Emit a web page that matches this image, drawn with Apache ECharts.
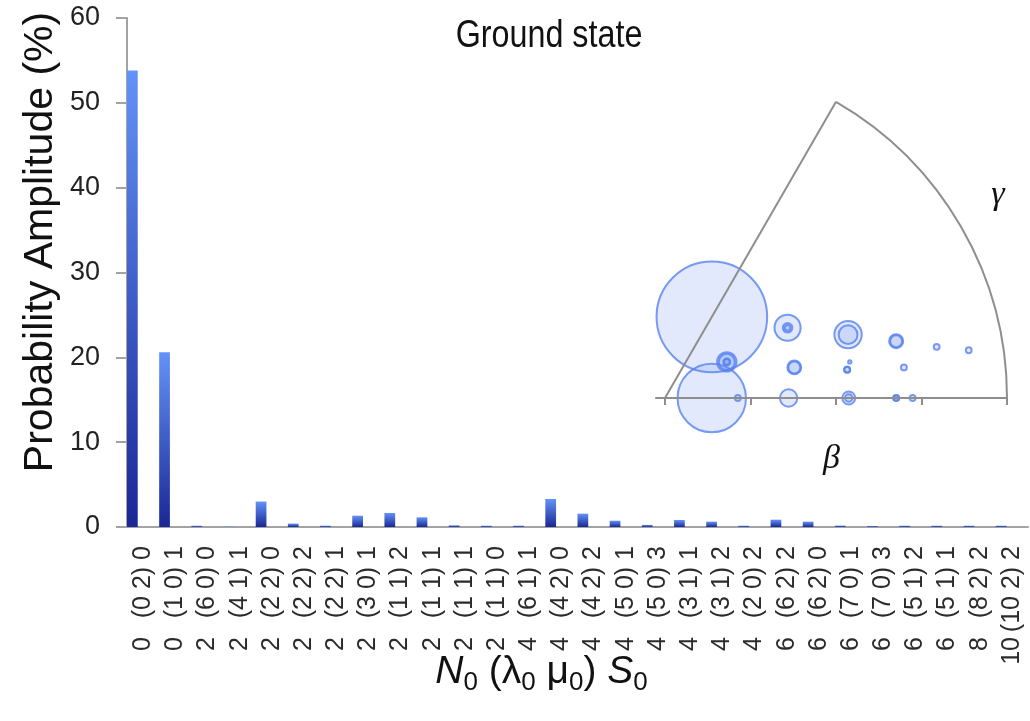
<!DOCTYPE html>
<html>
<head>
<meta charset="utf-8">
<script src="https://cdn.jsdelivr.net/npm/echarts@6/dist/echarts.min.js"></script>
<style>
  html, body { margin: 0; padding: 0; background: #ffffff; }
  #chart { width: 1030px; height: 721px; }
</style>
</head>
<body>
<div id="chart"></div>
<script>
// Basis states N0 (lambda0 mu0) S0 and their share of the ground state (%)
const shells  = [0, 0, 2, 2, 2, 2, 2, 2, 2, 2, 2, 2, 4, 4, 4, 4, 4, 4, 4, 4, 6, 6, 6, 6, 6, 6, 8, 10];
const lambdas = [0, 1, 6, 4, 2, 2, 2, 3, 1, 1, 1, 1, 6, 4, 4, 5, 5, 3, 3, 2, 6, 6, 7, 7, 5, 5, 8, 10];
const mus     = [2, 0, 0, 1, 2, 2, 2, 0, 1, 1, 1, 1, 1, 2, 2, 0, 0, 1, 1, 0, 2, 2, 0, 0, 1, 1, 2, 2];
const spins   = [0, 1, 0, 1, 0, 2, 1, 1, 2, 1, 1, 0, 1, 0, 2, 1, 3, 1, 2, 2, 2, 0, 1, 3, 2, 1, 2, 2];
const amplitude = [53.8, 20.6, 0.15, 0.05, 3.0, 0.4, 0.15, 1.33, 1.65, 1.14, 0.2, 0.15, 0.15, 3.3,
                   1.57, 0.74, 0.25, 0.83, 0.63, 0.15, 0.86, 0.63, 0.17, 0.12, 0.15, 0.15, 0.15, 0.15];

// Deformation of each state in the beta-gamma plane (beta, gamma in degrees)
const beta  = [1.096, 0.547, 2.896, 2.202, 1.652, 1.652, 1.652, 1.446, 0.837, 0.837, 0.837, 0.837, 2.817, 2.266,
               2.266, 2.149, 2.149, 1.554, 1.554, 0.852, 2.784, 2.784, 2.704, 2.704, 2.156, 2.156, 3.233, 3.596];
const gamma = [60, 0, 0, 11.05, 29.8, 29.8, 29.8, 0, 30.3, 30.3, 30.3, 30.3, 7.3, 19.1,
               19.1, 0, 0, 13.3, 13.3, 0, 13.8, 13.8, 0, 0, 8.85, 8.85, 10.66, 8.93];

// Axis ranges
const yMin = 0, yMax = 60, yStep = 10;
const betaStart = -0.105, betaMax = 4;
const betaTicks = [0, 1, 2, 3, 4];
const gammaMax = 60;

const categories = shells.map((n, i) => `${n} (${lambdas[i]} ${mus[i]}) ${spins[i]}`);

const sansFont = '"Liberation Sans", Arial, sans-serif';
const serifFont = '"Liberation Serif", "DejaVu Serif", serif';
const axisGray = '#a3a3a3';
const wedgeGray = '#8e8e8e';
const labelGray = '#2b2b2b';

// inset frame: polar origin and beta = betaMax radius, in pixels
const insetX = 665, insetY = 398, insetR = 342;
const betaPx = insetR / betaMax;

const barFill = new echarts.graphic.LinearGradient(0, 0, 0, 1, [
  { offset: 0, color: '#6393f8' },
  { offset: 1, color: '#1a2794' }
]);

const chart = echarts.init(document.getElementById('chart'), null, { renderer: 'canvas' });

chart.setOption({
  animation: false,
  backgroundColor: '#ffffff',
  grid: [
    { left: 127, right: 2, top: 18, bottom: 194, containLabel: false, outerBoundsMode: 'none' },
    // beta axis of the inset
    {
      left: insetX + betaStart * betaPx, width: (betaMax - betaStart) * betaPx,
      top: 60, height: insetY - 60, containLabel: false, outerBoundsMode: 'none', show: false
    }
  ],
  xAxis: [
    {
      type: 'category',
      gridIndex: 0,
      data: categories,
      boundaryGap: true,
      axisLine: { lineStyle: { color: axisGray, width: 2 } },
      axisTick: { length: 11, lineStyle: { color: axisGray, width: 2 } },
      axisLabel: {
        interval: 0,
        rotate: 90,
        margin: 19,
        formatter: (v, i) => `{n|${shells[i]}}{b|(${lambdas[i]} ${mus[i]}) ${spins[i]}}`,
        rich: {
          n: { width: 30, align: 'right', fontSize: 25, fontFamily: sansFont, color: labelGray },
          b: { width: 91, align: 'right', fontSize: 25, fontFamily: sansFont, color: labelGray }
        }
      },
      name: '{i|N}{s|0} ({t|\u03bb}{s|0} {t|\u03bc}{s|0}) {i|S}{s|0}',
      nameLocation: 'middle',
      nameGap: 121,
      nameMoveOverlap: false,
      nameTextStyle: {
        fontSize: 39, fontFamily: sansFont, color: '#111111', lineHeight: 48,
        padding: [0, 72, 0, 0],
        rich: {
          i: { fontSize: 39, fontStyle: 'italic', fontFamily: sansFont, color: '#111111', lineHeight: 48 },
          t: { fontSize: 39, fontFamily: sansFont, color: '#111111', lineHeight: 48 },
          s: { fontSize: 26, fontFamily: sansFont, color: '#111111', lineHeight: 25, verticalAlign: 'bottom' }
        }
      }
    },
    {
      type: 'value',
      gridIndex: 1,
      min: betaStart, max: betaMax,
      axisLine: { show: true, lineStyle: { color: wedgeGray, width: 2 } },
      axisTick: { show: true, length: 7, customValues: betaTicks, lineStyle: { color: wedgeGray, width: 2 } },
      axisLabel: { show: false },
      splitLine: { show: false },
      name: '\u03b2',
      nameLocation: 'middle',
      nameGap: 44,
      nameMoveOverlap: false,
      nameTextStyle: { fontFamily: serifFont, fontStyle: 'italic', fontSize: 34, color: '#111111' },
      z: 3
    }
  ],
  yAxis: [
    {
      type: 'value',
      gridIndex: 0,
      min: yMin, max: yMax, interval: yStep,
      axisLine: { show: true, lineStyle: { color: axisGray, width: 2 } },
      axisTick: { show: true, length: 11, lineStyle: { color: axisGray, width: 2 } },
      splitLine: { show: false },
      axisLabel: { fontSize: 27, margin: 27, color: '#222222', fontFamily: sansFont }
    },
    { type: 'value', gridIndex: 1, show: false }
  ],
  polar: { center: [insetX, insetY], radius: insetR },
  angleAxis: {
    type: 'value',
    min: 0, max: gammaMax, interval: gammaMax,
    startAngle: 0, endAngle: gammaMax, clockwise: false,
    axisLine: { lineStyle: { color: wedgeGray, width: 2 } },
    axisTick: { show: false },
    axisLabel: { show: false },
    splitLine: { show: true, lineStyle: { color: wedgeGray, width: 2 } },
    z: 3
  },
  radiusAxis: {
    type: 'value',
    min: 0, max: betaMax,
    axisLine: { show: false },
    axisTick: { show: false },
    axisLabel: { show: false },
    splitLine: { show: false }
  },
  series: [
    {
      type: 'bar', name: 'amplitude', data: amplitude,
      xAxisIndex: 0, yAxisIndex: 0,
      barGap: '0%', barCategoryGap: '0%',
      itemStyle: { color: barFill }
    },
    { type: 'bar', name: 'slotB', xAxisIndex: 0, yAxisIndex: 0, data: amplitude.map(() => null), barGap: '0%', barCategoryGap: '0%' },
    { type: 'bar', name: 'slotC', xAxisIndex: 0, yAxisIndex: 0, data: amplitude.map(() => null), barGap: '0%', barCategoryGap: '0%' },
    {
      type: 'scatter', name: 'deformation',
      coordinateSystem: 'polar',
      data: amplitude.map((a, i) => [beta[i], gamma[i], a]),
      symbol: 'circle',
      // circle area proportional to amplitude
      symbolSize: v => 15.08 * Math.sqrt(v[2]),
      itemStyle: { color: 'rgba(88,128,240,0.22)', borderColor: '#5882f0', borderWidth: 2 },
      z: 2
    }
  ],
  graphic: [
    {
      type: 'text', x: 41, y: 242, rotation: Math.PI / 2,
      style: {
        text: 'Probability Amplitude (%)', font: '41px ' + sansFont, fill: '#111111',
        align: 'center', verticalAlign: 'middle', textAlign: 'center', textVerticalAlign: 'middle'
      }
    },
    {
      type: 'text', x: 549, y: 37, scaleX: 0.85,
      style: {
        text: 'Ground state', font: '38px ' + sansFont, fill: '#111111',
        align: 'center', verticalAlign: 'middle', textAlign: 'center', textVerticalAlign: 'middle'
      }
    },
    {
      type: 'text', x: 998, y: 195,
      style: {
        text: '\u03b3', font: 'italic 34px ' + serifFont, fill: '#111111',
        align: 'center', verticalAlign: 'middle', textAlign: 'center', textVerticalAlign: 'middle'
      }
    }
  ]
});
</script>
</body>
</html>
